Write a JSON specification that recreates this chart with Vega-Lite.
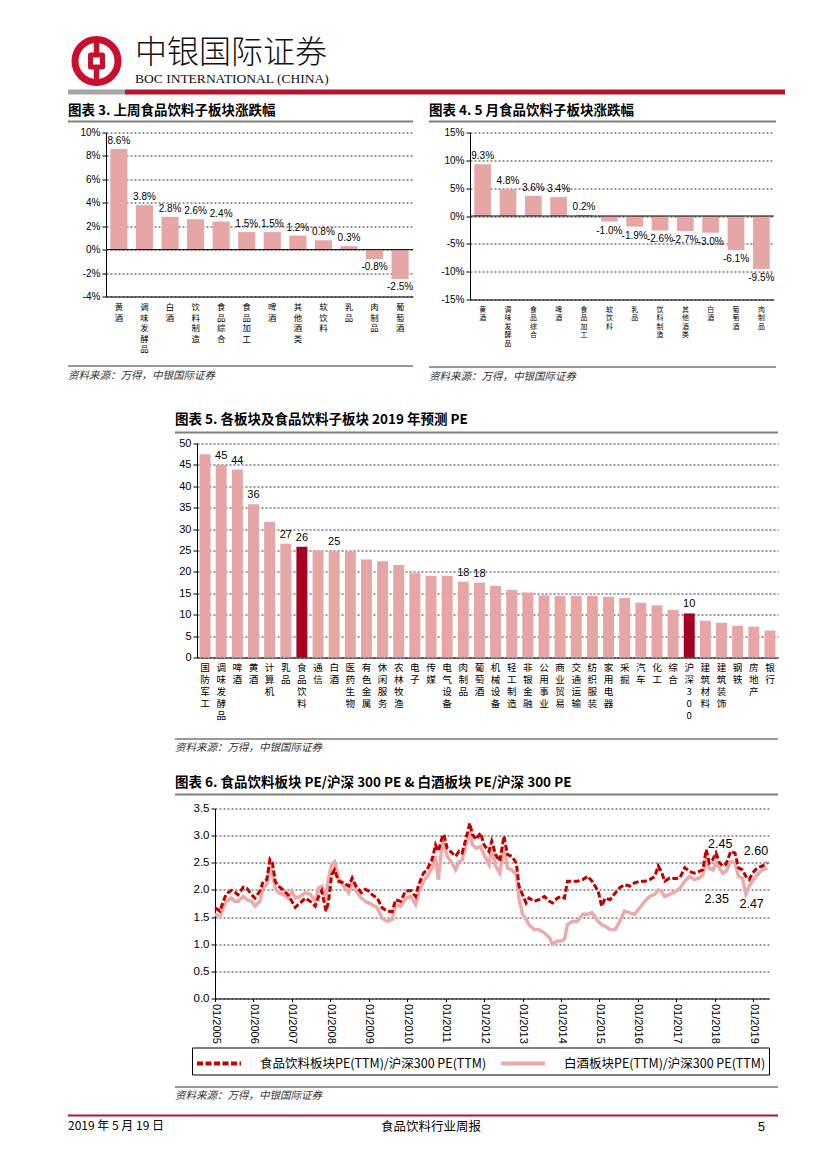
{
  "$schema": "https://vega.github.io/schema/vega-lite/v6.json",
  "padding": {"left": 68, "top": 32.5, "right": 0, "bottom": 0},
  "background": "white",
  "config": {
    "font": "Liberation Sans",
    "view": {"stroke": null},
    "title": {"anchor": "start", "frame": "group", "font": "Noto Sans CJK SC", "fontWeight": "bold", "fontSize": 13.5, "color": "#000"},
    "axis": {"domainColor": "#000", "tickColor": "#000", "labelColor": "#000", "gridColor": "#333", "gridDash": [2, 2], "gridWidth": 1, "labelFont": "Liberation Sans"}
  },
  "datasets": {
    "c3": [
      {"c": "黄酒", "v": 8.6, "t": "8.6%"},
      {"c": "调味发酵品", "v": 3.8, "t": "3.8%"},
      {"c": "白酒", "v": 2.8, "t": "2.8%"},
      {"c": "饮料制造", "v": 2.6, "t": "2.6%"},
      {"c": "食品综合", "v": 2.4, "t": "2.4%"},
      {"c": "食品加工", "v": 1.5, "t": "1.5%"},
      {"c": "啤酒", "v": 1.5, "t": "1.5%"},
      {"c": "其他酒类", "v": 1.2, "t": "1.2%"},
      {"c": "软饮料", "v": 0.8, "t": "0.8%"},
      {"c": "乳品", "v": 0.3, "t": "0.3%"},
      {"c": "肉制品", "v": -0.8, "t": "-0.8%"},
      {"c": "葡萄酒", "v": -2.5, "t": "-2.5%"}
    ],
    "c4": [
      {"c": "黄酒", "v": 9.3, "t": "9.3%"},
      {"c": "调味发酵品", "v": 4.8, "t": "4.8%"},
      {"c": "食品综合", "v": 3.6, "t": "3.6%"},
      {"c": "啤酒", "v": 3.4, "t": "3.4%"},
      {"c": "食品加工", "v": 0.2, "t": "0.2%"},
      {"c": "软饮料", "v": -1.0, "t": "-1.0%"},
      {"c": "乳品", "v": -1.9, "t": "-1.9%"},
      {"c": "饮料制造", "v": -2.6, "t": "-2.6%"},
      {"c": "其他酒类", "v": -2.7, "t": "-2.7%"},
      {"c": "白酒", "v": -3.0, "t": "-3.0%"},
      {"c": "葡萄酒", "v": -6.1, "t": "-6.1%"},
      {"c": "肉制品", "v": -9.5, "t": "-9.5%"}
    ],
    "c5": [
      {"c": "国防军工", "v": 47.5},
      {"c": "调味发酵品", "v": 45.0},
      {"c": "啤酒", "v": 43.9},
      {"c": "黄酒", "v": 35.8},
      {"c": "计算机", "v": 31.7},
      {"c": "乳品", "v": 26.6},
      {"c": "食品饮料", "v": 25.9},
      {"c": "通信", "v": 25.0},
      {"c": "白酒", "v": 24.8},
      {"c": "医药生物", "v": 24.8},
      {"c": "有色金属", "v": 22.9},
      {"c": "休闲服务", "v": 22.5},
      {"c": "农林牧渔", "v": 21.6},
      {"c": "电子", "v": 19.7},
      {"c": "传媒", "v": 19.1},
      {"c": "电气设备", "v": 19.1},
      {"c": "肉制品", "v": 17.7},
      {"c": "葡萄酒", "v": 17.5},
      {"c": "机械设备", "v": 16.7},
      {"c": "轻工制造", "v": 15.8},
      {"c": "非银金融", "v": 15.2},
      {"c": "公用事业", "v": 14.5},
      {"c": "商业贸易", "v": 14.4},
      {"c": "交通运输", "v": 14.4},
      {"c": "纺织服装", "v": 14.4},
      {"c": "家用电器", "v": 14.2},
      {"c": "采掘", "v": 13.9},
      {"c": "汽车", "v": 12.8},
      {"c": "化工", "v": 12.2},
      {"c": "综合", "v": 11.1},
      {"c": "沪深300", "v": 10.3},
      {"c": "建筑材料", "v": 8.6},
      {"c": "建筑装饰", "v": 8.1},
      {"c": "钢铁", "v": 7.4},
      {"c": "房地产", "v": 7.2},
      {"c": "银行", "v": 6.3}
    ],
    "c6": [
      {"d": "2005-01-01", "f": 1.67, "b": 1.55},
      {"d": "2005-02-17", "f": 1.61, "b": 1.52},
      {"d": "2005-03-20", "f": 1.79, "b": 1.67},
      {"d": "2005-04-20", "f": 1.93, "b": 1.79},
      {"d": "2005-06-05", "f": 1.99, "b": 1.85},
      {"d": "2005-07-08", "f": 1.96, "b": 1.79},
      {"d": "2005-08-07", "f": 1.91, "b": 1.79},
      {"d": "2005-09-27", "f": 2.05, "b": 1.88},
      {"d": "2005-10-30", "f": 2.03, "b": 1.82},
      {"d": "2005-12-16", "f": 1.91, "b": 1.79},
      {"d": "2006-01-15", "f": 1.85, "b": 1.70},
      {"d": "2006-03-03", "f": 1.98, "b": 1.79},
      {"d": "2006-04-05", "f": 2.16, "b": 2.04},
      {"d": "2006-05-08", "f": 2.19, "b": 2.10},
      {"d": "2006-06-07", "f": 2.56, "b": 2.44},
      {"d": "2006-07-01", "f": 2.50, "b": 2.28},
      {"d": "2006-07-27", "f": 2.16, "b": 2.04},
      {"d": "2006-08-25", "f": 2.07, "b": 1.95},
      {"d": "2006-10-12", "f": 2.00, "b": 1.92},
      {"d": "2006-11-25", "f": 1.91, "b": 1.85},
      {"d": "2007-01-01", "f": 1.79, "b": 1.98},
      {"d": "2007-02-03", "f": 1.68, "b": 1.85},
      {"d": "2007-03-22", "f": 1.76, "b": 1.88},
      {"d": "2007-05-08", "f": 1.85, "b": 1.95},
      {"d": "2007-06-25", "f": 1.79, "b": 1.92},
      {"d": "2007-08-11", "f": 1.70, "b": 1.79},
      {"d": "2007-09-13", "f": 1.88, "b": 2.04},
      {"d": "2007-10-12", "f": 1.98, "b": 2.07},
      {"d": "2007-11-22", "f": 1.61, "b": 1.88},
      {"d": "2007-12-16", "f": 1.79, "b": 2.22},
      {"d": "2008-01-15", "f": 2.28, "b": 2.47},
      {"d": "2008-02-10", "f": 2.37, "b": 2.52},
      {"d": "2008-03-20", "f": 2.16, "b": 2.22},
      {"d": "2008-05-08", "f": 2.13, "b": 2.07},
      {"d": "2008-06-25", "f": 2.07, "b": 1.95},
      {"d": "2008-07-27", "f": 2.22, "b": 2.16},
      {"d": "2008-09-02", "f": 2.07, "b": 1.98},
      {"d": "2008-10-23", "f": 1.95, "b": 1.85},
      {"d": "2008-11-28", "f": 2.01, "b": 1.79},
      {"d": "2009-01-01", "f": 1.98, "b": 1.76},
      {"d": "2009-02-03", "f": 1.91, "b": 1.73},
      {"d": "2009-03-22", "f": 1.85, "b": 1.67},
      {"d": "2009-05-08", "f": 1.67, "b": 1.48},
      {"d": "2009-06-25", "f": 1.61, "b": 1.42},
      {"d": "2009-08-11", "f": 1.60, "b": 1.46},
      {"d": "2009-09-13", "f": 1.82, "b": 1.73},
      {"d": "2009-10-30", "f": 1.79, "b": 1.70},
      {"d": "2009-12-16", "f": 1.98, "b": 1.85},
      {"d": "2010-02-03", "f": 1.99, "b": 1.88},
      {"d": "2010-03-22", "f": 1.88, "b": 1.73},
      {"d": "2010-04-20", "f": 2.10, "b": 1.95},
      {"d": "2010-06-05", "f": 2.31, "b": 2.16},
      {"d": "2010-07-08", "f": 2.37, "b": 2.25},
      {"d": "2010-08-25", "f": 2.56, "b": 2.40},
      {"d": "2010-09-27", "f": 2.83, "b": 2.62},
      {"d": "2010-10-23", "f": 2.71, "b": 2.19},
      {"d": "2010-11-28", "f": 2.96, "b": 2.83},
      {"d": "2010-12-16", "f": 3.02, "b": 2.87},
      {"d": "2011-01-15", "f": 2.77, "b": 2.62},
      {"d": "2011-03-03", "f": 2.68, "b": 2.50},
      {"d": "2011-04-05", "f": 2.62, "b": 2.37},
      {"d": "2011-05-08", "f": 2.71, "b": 2.52},
      {"d": "2011-06-07", "f": 2.68, "b": 2.55},
      {"d": "2011-07-27", "f": 3.05, "b": 2.93},
      {"d": "2011-08-18", "f": 3.23, "b": 3.08},
      {"d": "2011-09-13", "f": 3.02, "b": 2.83},
      {"d": "2011-10-20", "f": 2.93, "b": 2.77},
      {"d": "2011-11-28", "f": 3.05, "b": 2.80},
      {"d": "2012-01-01", "f": 2.83, "b": 2.65},
      {"d": "2012-02-17", "f": 2.71, "b": 2.47},
      {"d": "2012-03-14", "f": 2.90, "b": 2.77},
      {"d": "2012-04-20", "f": 2.65, "b": 2.44},
      {"d": "2012-05-30", "f": 2.53, "b": 2.31},
      {"d": "2012-07-08", "f": 2.99, "b": 2.80},
      {"d": "2012-08-11", "f": 2.65, "b": 2.40},
      {"d": "2012-09-20", "f": 2.62, "b": 2.37},
      {"d": "2012-11-03", "f": 2.49, "b": 2.28},
      {"d": "2012-11-28", "f": 2.07, "b": 1.85},
      {"d": "2013-01-01", "f": 1.91, "b": 1.55},
      {"d": "2013-02-03", "f": 1.76, "b": 1.46},
      {"d": "2013-03-03", "f": 1.85, "b": 1.36},
      {"d": "2013-04-20", "f": 1.79, "b": 1.27},
      {"d": "2013-06-05", "f": 1.82, "b": 1.27},
      {"d": "2013-07-27", "f": 1.88, "b": 1.21},
      {"d": "2013-09-13", "f": 1.79, "b": 1.12},
      {"d": "2013-10-12", "f": 1.76, "b": 1.00},
      {"d": "2013-11-28", "f": 1.85, "b": 1.06},
      {"d": "2014-01-01", "f": 1.88, "b": 1.06},
      {"d": "2014-02-03", "f": 1.85, "b": 1.09},
      {"d": "2014-03-03", "f": 2.16, "b": 1.36},
      {"d": "2014-04-20", "f": 2.16, "b": 1.42},
      {"d": "2014-06-05", "f": 2.16, "b": 1.42},
      {"d": "2014-07-27", "f": 2.19, "b": 1.55},
      {"d": "2014-09-13", "f": 2.25, "b": 1.55},
      {"d": "2014-10-23", "f": 2.16, "b": 1.58},
      {"d": "2014-12-20", "f": 1.98, "b": 1.42},
      {"d": "2015-01-22", "f": 1.70, "b": 1.36},
      {"d": "2015-02-25", "f": 1.85, "b": 1.33},
      {"d": "2015-04-12", "f": 1.82, "b": 1.27},
      {"d": "2015-05-30", "f": 1.94, "b": 1.27},
      {"d": "2015-07-13", "f": 2.04, "b": 1.42},
      {"d": "2015-08-29", "f": 2.10, "b": 1.61},
      {"d": "2015-10-15", "f": 2.07, "b": 1.58},
      {"d": "2015-12-01", "f": 2.13, "b": 1.55},
      {"d": "2016-01-19", "f": 2.16, "b": 1.67},
      {"d": "2016-03-07", "f": 2.16, "b": 1.79},
      {"d": "2016-04-23", "f": 2.19, "b": 1.88},
      {"d": "2016-06-10", "f": 2.25, "b": 1.92},
      {"d": "2016-07-13", "f": 2.44, "b": 2.00},
      {"d": "2016-08-11", "f": 2.34, "b": 1.98},
      {"d": "2016-09-13", "f": 2.16, "b": 1.88},
      {"d": "2016-10-30", "f": 2.22, "b": 1.92},
      {"d": "2016-12-16", "f": 2.21, "b": 1.96},
      {"d": "2017-02-03", "f": 2.22, "b": 2.03},
      {"d": "2017-03-22", "f": 2.41, "b": 2.16},
      {"d": "2017-05-05", "f": 2.34, "b": 2.25},
      {"d": "2017-06-21", "f": 2.31, "b": 2.19},
      {"d": "2017-08-07", "f": 2.34, "b": 2.22},
      {"d": "2017-09-09", "f": 2.37, "b": 2.28},
      {"d": "2017-10-12", "f": 2.74, "b": 2.55},
      {"d": "2017-11-10", "f": 2.50, "b": 2.40},
      {"d": "2017-12-13", "f": 2.56, "b": 2.37},
      {"d": "2018-01-12", "f": 2.68, "b": 2.50},
      {"d": "2018-02-14", "f": 2.50, "b": 2.40},
      {"d": "2018-03-18", "f": 2.44, "b": 2.31},
      {"d": "2018-04-16", "f": 2.47, "b": 2.34},
      {"d": "2018-06-02", "f": 2.71, "b": 2.52},
      {"d": "2018-07-12", "f": 2.68, "b": 2.50},
      {"d": "2018-08-14", "f": 2.41, "b": 2.25},
      {"d": "2018-09-20", "f": 2.37, "b": 2.22},
      {"d": "2018-10-23", "f": 2.25, "b": 1.92},
      {"d": "2018-11-25", "f": 2.19, "b": 2.07},
      {"d": "2018-12-24", "f": 2.31, "b": 2.16},
      {"d": "2019-02-10", "f": 2.41, "b": 2.28},
      {"d": "2019-03-28", "f": 2.44, "b": 2.37},
      {"d": "2019-05-15", "f": 2.50, "b": 2.40}
    ],
    "c6a": [
      {"d": "2018-02-22", "v": 2.845, "t": "2.45"},
      {"d": "2019-01-27", "v": 2.72, "t": "2.60"},
      {"d": "2018-01-19", "v": 1.827, "t": "2.35"},
      {"d": "2018-12-17", "v": 1.735, "t": "2.47"}
    ]
  },
  "columns": 1,
  "align": "none",
  "spacing": 0,
  "resolve": {"scale": {"color": "independent", "strokeDash": "independent"}, "legend": {"color": "independent", "strokeDash": "independent"}},
  "concat": [
    {
      "columns": 2,
      "align": "none",
      "spacing": 10,
      "concat": [
        {
          "width": 57, "height": 57,
          "data": {"values": [{}]},
          "layer": [
            {"mark": {"type": "point", "shape": "circle", "size": 1849, "filled": true, "fill": "white", "fillOpacity": 1, "stroke": "#C8102E", "strokeWidth": 7, "strokeJoin": "round", "opacity": 1}, "encoding": {}},
            {"mark": {"type": "point", "shape": "M0,-1L0,1", "size": 1444, "filled": false, "stroke": "#C8102E", "strokeWidth": 5.5, "strokeJoin": "round", "strokeCap": "butt", "opacity": 1}, "encoding": {}},
            {"mark": {"type": "point", "shape": "square", "size": 144, "filled": true, "fill": "white", "fillOpacity": 1, "stroke": "#C8102E", "strokeWidth": 5, "strokeJoin": "round", "opacity": 1}, "encoding": {}}
          ]
        },
        {
          "columns": 1,
          "align": "none",
          "spacing": 0,
          "concat": [
            {"width": 1, "height": 4, "data": {"values": [{}]}, "mark": {"type": "point", "size": 0, "opacity": 0}, "encoding": {}},
            {
              "width": 1, "height": 1,
              "data": {"values": [{}]},
              "mark": {"type": "point", "size": 0, "opacity": 0},
              "encoding": {},
              "title": {"text": "中银国际证券", "subtitle": "BOC INTERNATIONAL (CHINA)", "anchor": "start", "frame": "group", "offset": 0, "fontSize": 32, "font": "Noto Sans CJK SC", "fontWeight": 300, "color": "#111", "subtitleFont": "Liberation Serif", "subtitleFontSize": 13.5, "subtitleColor": "#111", "subtitlePadding": 2}
            }
          ]
        }
      ]
    },
    {
      "columns": 2,
      "align": "none",
      "spacing": 0,
      "concat": [
        {"width": 57, "height": 5, "view": {"fill": "#A6A6A6", "stroke": null}, "data": {"values": [{}]}, "mark": {"type": "point", "size": 0, "opacity": 0}, "encoding": {}},
        {"width": 660, "height": 5, "view": {"fill": "#B5152B", "stroke": null}, "data": {"values": [{}]}, "mark": {"type": "point", "size": 0, "opacity": 0}, "encoding": {}}
      ]
    },
    {"width": 1, "height": 8.5, "data": {"values": [{}]}, "mark": {"type": "point", "size": 0, "opacity": 0}, "encoding": {}},
    {
      "columns": 2,
      "align": "none",
      "spacing": 15,
      "concat": [
        {
          "columns": 1,
          "align": "none",
          "spacing": 0,
          "concat": [
            {"width": 345, "height": 2, "view": {"fill": "#7F7F7F", "stroke": null}, "data": {"values": [{}]}, "mark": {"type": "point", "size": 0, "opacity": 0}, "encoding": {}, "title": {"text": "图表 3. 上周食品饮料子板块涨跌幅", "offset": 3}},
            {"width": 1, "height": 5, "data": {"values": [{}]}, "mark": {"type": "point", "size": 0, "opacity": 0}, "encoding": {}},
            {
              "columns": 2,
              "align": "none",
              "spacing": 0,
              "concat": [
                {"width": 1, "height": 1, "data": {"values": [{}]}, "mark": {"type": "point", "size": 0, "opacity": 0}, "encoding": {}},
                {
                  "width": 307, "height": 164,
                  "data": {"name": "c3"},
                  "layer": [
                    {
                      "mark": {"type": "bar", "color": "#E6A6A6"},
                      "encoding": {
                        "x": {"field": "c", "type": "nominal", "sort": null, "scale": {"paddingInner": 0.33, "paddingOuter": 0.17},
                          "axis": {"title": null, "labelAngle": 0, "labelExpr": "[substring(datum.label,0,1),substring(datum.label,1,2),substring(datum.label,2,3),substring(datum.label,3,4),substring(datum.label,4,5)]", "labelBaseline": "top", "labelAlign": "center", "labelLineHeight": 10.5, "labelFont": "Noto Sans CJK SC", "labelFontSize": 8.4, "labelPadding": 6, "ticks": false, "domain": true}},
                        "y": {"field": "v", "type": "quantitative", "scale": {"domain": [-4, 10], "nice": false},
                          "axis": {"values": [-4, -2, 0, 2, 4, 6, 8, 10], "tickCount": 20, "labelExpr": "datum.value + '%'", "labelOverlap": false, "grid": true, "ticks": true, "tickSize": 4, "labelFontSize": 10, "labelPadding": 2, "title": ".", "titleColor": "white", "titleX": -37, "titleY": 10, "titleAngle": 0, "titleAlign": "left", "titleBaseline": "middle", "titleFontSize": 4}}
                      }
                    },
                    {"data": {"values": [{}]}, "mark": {"type": "rule", "color": "#000", "strokeWidth": 1}, "encoding": {"y": {"datum": 0}}},
                    {
                      "transform": [{"filter": "datum.v >= 0"}],
                      "mark": {"type": "text", "baseline": "bottom", "dy": -3, "fontSize": 10, "font": "Liberation Sans"},
                      "encoding": {"x": {"field": "c", "type": "nominal", "sort": null}, "y": {"field": "v", "type": "quantitative"}, "text": {"field": "t"}}
                    },
                    {
                      "transform": [{"filter": "datum.v < 0"}],
                      "mark": {"type": "text", "baseline": "top", "dy": 3, "fontSize": 10, "font": "Liberation Sans"},
                      "encoding": {"x": {"field": "c", "type": "nominal", "sort": null}, "y": {"field": "v", "type": "quantitative"}, "text": {"field": "t"}}
                    }
                  ]
                }
              ]
            },
            {"width": 1, "height": 12, "data": {"values": [{}]}, "mark": {"type": "point", "size": 0, "opacity": 0}, "encoding": {}},
            {"width": 345, "height": 1, "view": {"fill": "#333", "stroke": null}, "data": {"values": [{}]}, "mark": {"type": "point", "size": 0, "opacity": 0}, "encoding": {}, "title": {"text": "资料来源：万得，中银国际证券", "orient": "bottom", "offset": 4, "fontSize": 10.5, "fontStyle": "italic", "fontWeight": "normal", "color": "#333"}}
          ]
        },
        {
          "columns": 1,
          "align": "none",
          "spacing": 0,
          "concat": [
            {"width": 347, "height": 2, "view": {"fill": "#7F7F7F", "stroke": null}, "data": {"values": [{}]}, "mark": {"type": "point", "size": 0, "opacity": 0}, "encoding": {}, "title": {"text": "图表 4. 5 月食品饮料子板块涨跌幅", "offset": 3}},
            {"width": 1, "height": 5, "data": {"values": [{}]}, "mark": {"type": "point", "size": 0, "opacity": 0}, "encoding": {}},
            {
              "columns": 2,
              "align": "none",
              "spacing": 0,
              "concat": [
                {"width": 1, "height": 1, "data": {"values": [{}]}, "mark": {"type": "point", "size": 0, "opacity": 0}, "encoding": {}},
                {
                  "width": 304, "height": 167,
                  "data": {"name": "c4"},
                  "layer": [
                    {
                      "mark": {"type": "bar", "color": "#E6A6A6"},
                      "encoding": {
                        "x": {"field": "c", "type": "nominal", "sort": null, "scale": {"paddingInner": 0.34, "paddingOuter": 0.17},
                          "axis": {"title": null, "labelAngle": 0, "labelExpr": "[substring(datum.label,0,1),substring(datum.label,1,2),substring(datum.label,2,3),substring(datum.label,3,4),substring(datum.label,4,5)]", "labelBaseline": "top", "labelAlign": "center", "labelLineHeight": 8.6, "labelFont": "Noto Sans CJK SC", "labelFontSize": 6.9, "labelPadding": 6.5, "ticks": false, "domain": true}},
                        "y": {"field": "v", "type": "quantitative", "scale": {"domain": [-15, 15], "nice": false},
                          "axis": {"values": [-15, -10, -5, 0, 5, 10, 15], "tickCount": 20, "labelExpr": "datum.value + '%'", "labelOverlap": false, "grid": true, "ticks": true, "tickSize": 4, "labelFontSize": 10, "labelPadding": 2, "title": ".", "titleColor": "white", "titleX": -40, "titleY": 10, "titleAngle": 0, "titleAlign": "left", "titleBaseline": "middle", "titleFontSize": 4}}
                      }
                    },
                    {"data": {"values": [{}]}, "mark": {"type": "rule", "color": "#000", "strokeWidth": 1}, "encoding": {"y": {"datum": 0}}},
                    {
                      "transform": [{"filter": "datum.v >= 0"}],
                      "mark": {"type": "text", "baseline": "bottom", "dy": -3, "fontSize": 10, "font": "Liberation Sans"},
                      "encoding": {"x": {"field": "c", "type": "nominal", "sort": null}, "y": {"field": "v", "type": "quantitative"}, "text": {"field": "t"}}
                    },
                    {
                      "transform": [{"filter": "datum.v < 0"}],
                      "mark": {"type": "text", "baseline": "top", "dy": 4, "fontSize": 10, "font": "Liberation Sans"},
                      "encoding": {"x": {"field": "c", "type": "nominal", "sort": null}, "y": {"field": "v", "type": "quantitative"}, "text": {"field": "t"}}
                    }
                  ]
                }
              ]
            },
            {"width": 1, "height": 20, "data": {"values": [{}]}, "mark": {"type": "point", "size": 0, "opacity": 0}, "encoding": {}},
            {"width": 347, "height": 1, "view": {"fill": "#333", "stroke": null}, "data": {"values": [{}]}, "mark": {"type": "point", "size": 0, "opacity": 0}, "encoding": {}, "title": {"text": "资料来源：万得，中银国际证券", "orient": "bottom", "offset": 4, "fontSize": 10.5, "fontStyle": "italic", "fontWeight": "normal", "color": "#333"}}
          ]
        }
      ]
    },
    {"width": 1, "height": 30, "data": {"values": [{}]}, "mark": {"type": "point", "size": 0, "opacity": 0}, "encoding": {}},
    {
      "columns": 2,
      "align": "none",
      "spacing": 0,
      "concat": [
        {"width": 107, "height": 1, "data": {"values": [{}]}, "mark": {"type": "point", "size": 0, "opacity": 0}, "encoding": {}},
        {
          "columns": 1,
          "align": "none",
          "spacing": 0,
          "concat": [
            {"width": 603, "height": 2, "view": {"fill": "#7F7F7F", "stroke": null}, "data": {"values": [{}]}, "mark": {"type": "point", "size": 0, "opacity": 0}, "encoding": {}, "title": {"text": "图表 5. 各板块及食品饮料子板块 2019 年预测 PE", "offset": 5}},
            {"width": 1, "height": 3.5, "data": {"values": [{}]}, "mark": {"type": "point", "size": 0, "opacity": 0}, "encoding": {}},
            {
              "columns": 2,
              "align": "none",
              "spacing": 0,
              "concat": [
                {"width": 1, "height": 1, "data": {"values": [{}]}, "mark": {"type": "point", "size": 0, "opacity": 0}, "encoding": {}},
                {
                  "width": 581, "height": 214,
                  "data": {"name": "c5"},
                  "layer": [
                    {
                      "mark": {"type": "bar"},
                      "encoding": {
                        "x": {"field": "c", "type": "nominal", "sort": null, "scale": {"paddingInner": 0.32, "paddingOuter": 0.16},
                          "axis": {"title": null, "labelAngle": 0, "labelExpr": "[substring(datum.label,0,1),substring(datum.label,1,2),substring(datum.label,2,3),substring(datum.label,3,4),substring(datum.label,4,5)]", "labelBaseline": "top", "labelAlign": "center", "labelLineHeight": 12, "labelFont": "Noto Sans CJK SC", "labelFontSize": 9.6, "labelPadding": 5, "ticks": false, "domain": true}},
                        "y": {"field": "v", "type": "quantitative", "scale": {"domain": [0, 50], "nice": false},
                          "axis": {"values": [0, 5, 10, 15, 20, 25, 30, 35, 40, 45, 50], "tickCount": 20, "labelOverlap": false, "grid": true, "ticks": true, "tickSize": 4, "labelFontSize": 11, "labelPadding": 2, "title": ".", "titleColor": "white", "titleX": -21, "titleY": 10, "titleAngle": 0, "titleAlign": "left", "titleBaseline": "middle", "titleFontSize": 4}},
                        "color": {"condition": {"test": "datum.c == '食品饮料' || datum.c == '沪深300'", "value": "#A50021"}, "value": "#E6A6A6"}
                      }
                    },
                    {
                      "transform": [{"filter": "indexof(['调味发酵品','啤酒','黄酒','乳品','食品饮料','白酒','肉制品','葡萄酒','沪深300'], datum.c) >= 0"}],
                      "mark": {"type": "text", "baseline": "bottom", "dy": -4, "fontSize": 11, "font": "Liberation Sans"},
                      "encoding": {"x": {"field": "c", "type": "nominal", "sort": null}, "y": {"field": "v", "type": "quantitative"}, "text": {"field": "v", "format": ".0f"}}
                    }
                  ]
                }
              ]
            },
            {"width": 1, "height": 18, "data": {"values": [{}]}, "mark": {"type": "point", "size": 0, "opacity": 0}, "encoding": {}},
            {"width": 603, "height": 1, "view": {"fill": "#333", "stroke": null}, "data": {"values": [{}]}, "mark": {"type": "point", "size": 0, "opacity": 0}, "encoding": {}, "title": {"text": "资料来源：万得，中银国际证券", "orient": "bottom", "offset": 3, "fontSize": 10.5, "fontStyle": "italic", "fontWeight": "normal", "color": "#333"}}
          ]
        }
      ]
    },
    {"width": 1, "height": 22, "data": {"values": [{}]}, "mark": {"type": "point", "size": 0, "opacity": 0}, "encoding": {}},
    {
      "columns": 2,
      "align": "none",
      "spacing": 0,
      "resolve": {"scale": {"color": "independent", "strokeDash": "independent"}, "legend": {"color": "independent", "strokeDash": "independent"}},
      "concat": [
        {"width": 107, "height": 1, "data": {"values": [{}]}, "mark": {"type": "point", "size": 0, "opacity": 0}, "encoding": {}},
        {
          "columns": 1,
          "align": "none",
          "spacing": 0,
          "resolve": {"scale": {"color": "independent", "strokeDash": "independent"}, "legend": {"color": "independent", "strokeDash": "independent"}},
          "concat": [
            {"width": 603, "height": 2, "view": {"fill": "#7F7F7F", "stroke": null}, "data": {"values": [{}]}, "mark": {"type": "point", "size": 0, "opacity": 0}, "encoding": {}, "title": {"text": "图表 6. 食品饮料板块 PE/沪深 300 PE & 白酒板块 PE/沪深 300 PE", "offset": 4}},
            {"width": 1, "height": 7, "data": {"values": [{}]}, "mark": {"type": "point", "size": 0, "opacity": 0}, "encoding": {}},
            {
              "columns": 2,
              "align": "none",
              "spacing": 0,
              "resolve": {"scale": {"color": "independent", "strokeDash": "independent"}, "legend": {"color": "independent", "strokeDash": "independent"}},
              "concat": [
                {"width": 1, "height": 1, "data": {"values": [{}]}, "mark": {"type": "point", "size": 0, "opacity": 0}, "encoding": {}},
                {
                  "width": 554, "height": 190,
                  "layer": [
                    {
                      "data": {"name": "c6"},
                      "transform": [{"fold": ["b"], "as": ["s", "v"]}],
                      "mark": {"type": "line", "strokeWidth": 3.5},
                      "encoding": {
                        "x": {"field": "d", "type": "temporal", "scale": {"type": "utc", "domain": ["2005-01-01", "2019-05-31"]},
                          "axis": {"title": null, "format": "%m/%Y", "labelAngle": 90, "tickCount": {"interval": "year", "step": 1}, "labelFontSize": 11, "grid": false, "ticks": true, "tickSize": 3, "labelPadding": 2}},
                        "y": {"field": "v", "type": "quantitative", "scale": {"domain": [0, 3.5], "nice": false},
                          "axis": {"values": [0, 0.5, 1, 1.5, 2, 2.5, 3, 3.5], "tickCount": 20, "format": ".1f", "labelOverlap": false, "grid": true, "ticks": true, "tickSize": 4, "labelFontSize": 11.5, "labelPadding": 2, "title": ".", "titleColor": "white", "titleX": -39, "titleY": 10, "titleAngle": 0, "titleAlign": "left", "titleBaseline": "middle", "titleFontSize": 4}},
                        "color": {"field": "s", "type": "nominal", "scale": {"domain": ["f", "b"], "range": ["#C00000", "#EDAAAA"]},
                          "legend": {"title": null, "orient": "none", "legendX": -23, "legendY": 239, "direction": "horizontal", "symbolType": "M-2,0L2,0", "symbolSize": 484, "symbolOffset": 11, "symbolStrokeWidth": 4, "labelFont": "Noto Sans CJK SC", "labelFontSize": 12.5, "labelLimit": 400, "labelOffset": 28, "columnPadding": 6, "padding": 3, "strokeColor": "#000", "fillColor": "white", "labelExpr": "datum.label == 'f' ? '食品饮料板块PE(TTM)/沪深300 PE(TTM)' : '白酒板块PE(TTM)/沪深300 PE(TTM)'"}},
                        "strokeDash": {"field": "s", "type": "nominal", "scale": {"domain": ["f", "b"], "range": [[6, 2.5], [1, 0]]}}
                      }
                    },
                    {
                      "data": {"name": "c6"},
                      "transform": [{"fold": ["f"], "as": ["s", "v"]}],
                      "mark": {"type": "line", "strokeWidth": 3},
                      "encoding": {
                        "x": {"field": "d", "type": "temporal"},
                        "y": {"field": "v", "type": "quantitative"},
                        "color": {"field": "s", "type": "nominal"},
                        "strokeDash": {"field": "s", "type": "nominal"}
                      }
                    },
                    {
                      "data": {"name": "c6a"},
                      "mark": {"type": "text", "fontSize": 12.5, "font": "Liberation Sans", "color": "#000"},
                      "encoding": {
                        "x": {"field": "d", "type": "temporal"},
                        "y": {"field": "v", "type": "quantitative"},
                        "text": {"field": "t"}
                      }
                    }
                  ]
                }
              ]
            },
            {"width": 1, "height": 11, "data": {"values": [{}]}, "mark": {"type": "point", "size": 0, "opacity": 0}, "encoding": {}},
            {"width": 603, "height": 1, "view": {"fill": "#333", "stroke": null}, "data": {"values": [{}]}, "mark": {"type": "point", "size": 0, "opacity": 0}, "encoding": {}, "title": {"text": "资料来源：万得，中银国际证券", "orient": "bottom", "offset": 3, "fontSize": 10.5, "fontStyle": "italic", "fontWeight": "normal", "color": "#333"}}
          ]
        }
      ]
    },
    {"width": 1, "height": 12.5, "data": {"values": [{}]}, "mark": {"type": "point", "size": 0, "opacity": 0}, "encoding": {}},
    {
      "columns": 4,
      "align": "none",
      "spacing": 0,
      "concat": [
        {"width": 250, "height": 2, "view": {"fill": "#B5152B", "stroke": null}, "data": {"values": [{}]}, "mark": {"type": "point", "size": 0, "opacity": 0}, "encoding": {}, "title": {"text": "2019 年 5 月 19 日", "orient": "bottom", "anchor": "start", "offset": 4, "fontSize": 12, "fontWeight": "normal", "color": "#000"}},
        {"width": 226, "height": 2, "view": {"fill": "#B5152B", "stroke": null}, "data": {"values": [{}]}, "mark": {"type": "point", "size": 0, "opacity": 0}, "encoding": {}, "title": {"text": "食品饮料行业周报", "orient": "bottom", "anchor": "middle", "offset": 4, "fontSize": 12.5, "fontWeight": "normal", "color": "#000"}},
        {"width": 221, "height": 2, "view": {"fill": "#B5152B", "stroke": null}, "data": {"values": [{}]}, "mark": {"type": "point", "size": 0, "opacity": 0}, "encoding": {}, "title": {"text": "5", "orient": "bottom", "anchor": "end", "offset": 4, "fontSize": 12.5, "fontWeight": "normal", "font": "Liberation Sans", "color": "#000"}},
        {"width": 13, "height": 2, "view": {"fill": "#B5152B", "stroke": null}, "data": {"values": [{}]}, "mark": {"type": "point", "size": 0, "opacity": 0}, "encoding": {}}
      ]
    }
  ]
}
